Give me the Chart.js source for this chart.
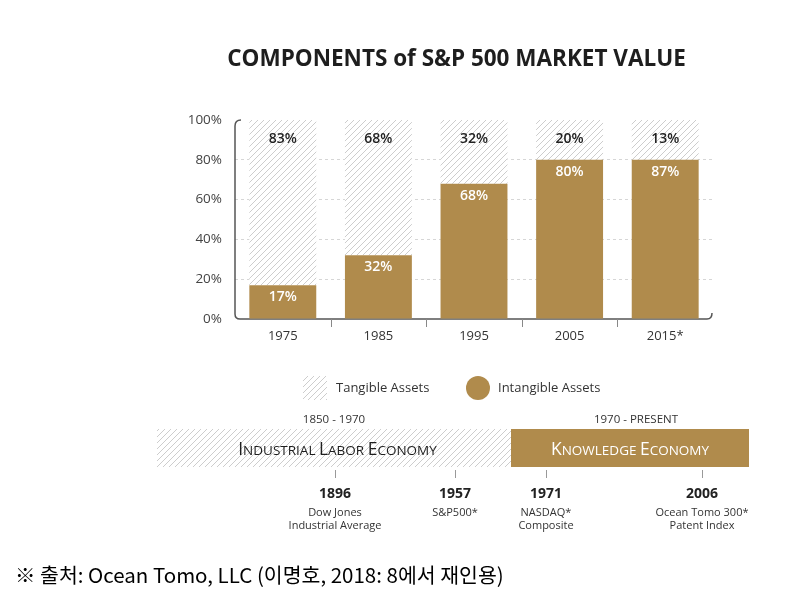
<!DOCTYPE html>
<html>
<head>
<meta charset="utf-8">
<script src="https://cdn.jsdelivr.net/npm/chart.js@4"></script>
<style>
  body { margin: 0; background: #fff; }
  #wrap { position: relative; width: 805px; height: 596px; overflow: hidden; }
  #chart { position: absolute; left: 0; top: 0; }
  #title {
    position: absolute; left: 0; width: 913px; top: 42px; text-align: center;
    font: 700 22.5px "Open Sans", sans-serif; color: #1e1e1e; white-space: nowrap;
  }
  #source {
    position: absolute; left: 15px; top: 559px;
    font: 20.5px "Noto Sans CJK KR", sans-serif; color: #000; white-space: nowrap;
  }
</style>
</head>
<body>
<div id="wrap">
  <canvas id="chart" width="805" height="596"></canvas>
  <div id="title">COMPONENTS of S&amp;P 500 MARKET VALUE</div>
  <div id="source">※ 출처: Ocean Tomo, LLC (이명호, 2018: 8에서 재인용)</div>
</div>
<script>
// 데이터 (막대 높이는 그림에 그려진 대로, 라벨은 인쇄된 값)
const years = ["1975", "1985", "1995", "2005", "2015*"];
const intangible = [17, 32, 68, 80, 80];
const tangible = [83, 68, 32, 20, 20];
const intangibleLabels = [17, 32, 68, 80, 87];
const tangibleLabels = [83, 68, 32, 20, 13];

const legendLabels = ["Tangible Assets", "Intangible Assets"];
const eras = ["1850 - 1970", "1970 - PRESENT"];
const eraNames = ["Industrial Labor Economy", "Knowledge Economy"];
const milestoneYears = ["1896", "1957", "1971", "2006"];
const milestoneNotes = [["Dow Jones", "Industrial Average"], ["S&P500*"], ["NASDAQ*", "Composite"], ["Ocean Tomo 300*", "Patent Index"]];

// 레이아웃
const GOLD = "#b08b4c";
const FONT = '"Open Sans", sans-serif';
const milestoneX = [335, 455, 546, 702];

// 빗금 패턴
function makeHatch() {
  const c = document.createElement("canvas");
  c.width = 6; c.height = 6;
  const g = c.getContext("2d");
  g.fillStyle = "#fff";
  g.fillRect(0, 0, 6, 6);
  g.strokeStyle = "#cdcdcd";
  g.lineWidth = 1;
  g.beginPath();
  g.moveTo(0, 6); g.lineTo(6, 0);
  g.moveTo(-1, 1); g.lineTo(1, -1);
  g.moveTo(5, 7); g.lineTo(7, 5);
  g.stroke();
  return g.createPattern(c, "repeat");
}
const hatch = makeHatch();

// small caps 글자
function smallCaps(ctx, text, cx, y, big, small, color) {
  const parts = [];
  text.split(" ").forEach((w, i) => {
    if (i > 0) parts.push({ t: " ", s: small });
    parts.push({ t: w[0].toUpperCase(), s: big });
    parts.push({ t: w.slice(1).toUpperCase(), s: small });
  });
  let total = 0;
  parts.forEach(p => { ctx.font = p.s + "px " + FONT; p.w = ctx.measureText(p.t).width; total += p.w; });
  let x = cx - total / 2;
  ctx.fillStyle = color;
  ctx.textAlign = "left";
  ctx.textBaseline = "alphabetic";
  parts.forEach(p => { ctx.font = p.s + "px " + FONT; ctx.fillText(p.t, x, y); x += p.w; });
}

const extras = {
  id: "extras",
  beforeDatasetsDraw(chart) {
    const { ctx, chartArea: a } = chart;
    ctx.save();
    // 축선 (둥근 모서리)
    ctx.strokeStyle = "#555";
    ctx.lineWidth = 1.5;
    ctx.beginPath();
    ctx.moveTo(a.left + 6, a.top);
    ctx.quadraticCurveTo(a.left, a.top, a.left, a.top + 6);
    ctx.lineTo(a.left, a.bottom - 5);
    ctx.quadraticCurveTo(a.left, a.bottom, a.left + 5, a.bottom);
    ctx.lineTo(a.right - 6, a.bottom);
    ctx.quadraticCurveTo(a.right - 1, a.bottom, a.right - 1, a.bottom - 6);
    ctx.stroke();
    // 카테고리 구분 눈금
    const xs = chart.scales.x;
    ctx.strokeStyle = "#888";
    ctx.lineWidth = 1;
    for (let i = 1; i < years.length; i++) {
      const px = Math.round((xs.getPixelForValue(i - 1) + xs.getPixelForValue(i)) / 2) + 0.5;
      ctx.beginPath();
      ctx.moveTo(px, a.bottom);
      ctx.lineTo(px, a.bottom + 8);
      ctx.stroke();
    }
    ctx.restore();
  },
  afterDatasetsDraw(chart) {
    const { ctx } = chart;
    const ys = chart.scales.y;
    const bars = chart.getDatasetMeta(0).data;
    ctx.save();
    ctx.textAlign = "center";
    ctx.textBaseline = "middle";
    ctx.font = "600 14px " + FONT;
    bars.forEach((b, i) => {
      ctx.fillStyle = "#fff";
      ctx.fillText(intangibleLabels[i] + "%", b.x, b.y + 12);
      ctx.fillStyle = "#222";
      ctx.fillText(tangibleLabels[i] + "%", b.x, ys.getPixelForValue(100) + 19);
    });
    ctx.restore();
  },
  afterDraw(chart) {
    const { ctx } = chart;
    ctx.save();
    // 범례
    ctx.fillStyle = hatch;
    ctx.fillRect(303, 376, 24, 24);
    ctx.fillStyle = GOLD;
    ctx.beginPath();
    ctx.arc(478, 388, 12, 0, Math.PI * 2);
    ctx.fill();
    ctx.fillStyle = "#333";
    ctx.font = "13px " + FONT;
    ctx.textAlign = "left";
    ctx.textBaseline = "middle";
    ctx.fillText(legendLabels[0], 336, 388);
    ctx.fillText(legendLabels[1], 498, 388);

    // 타임라인
    ctx.fillStyle = hatch;
    ctx.fillRect(157, 429, 354, 38);
    ctx.fillStyle = GOLD;
    ctx.fillRect(511, 429, 238, 38);
    ctx.fillStyle = "#333";
    ctx.font = "11.5px " + FONT;
    ctx.textAlign = "center";
    ctx.fillText(eras[0], 334, 420);
    ctx.fillText(eras[1], 636, 420);
    smallCaps(ctx, eraNames[0], 337.5, 455, 17.5, 13.5, "#1e1e1e");
    smallCaps(ctx, eraNames[1], 630, 455, 17.5, 13.5, "#fff");

    ctx.strokeStyle = "#999";
    ctx.lineWidth = 1;
    milestoneYears.forEach((yr, i) => {
      const x = milestoneX[i];
      ctx.beginPath();
      ctx.moveTo(x + 0.5, 470);
      ctx.lineTo(x + 0.5, 478);
      ctx.stroke();
      ctx.fillStyle = "#222";
      ctx.textAlign = "center";
      ctx.textBaseline = "middle";
      ctx.font = "700 14px " + FONT;
      ctx.fillText(yr, x, 494);
      ctx.fillStyle = "#333";
      ctx.font = "11px " + FONT;
      milestoneNotes[i].forEach((ln, j) => ctx.fillText(ln, x, 513 + j * 13));
    });
    ctx.restore();
  }
};

new Chart(document.getElementById("chart"), {
  type: "bar",
  data: {
    labels: years,
    datasets: [
      { label: legendLabels[1], data: intangible, backgroundColor: GOLD, barPercentage: 0.7, categoryPercentage: 1 },
      { label: legendLabels[0], data: tangible, backgroundColor: hatch, barPercentage: 0.7, categoryPercentage: 1 }
    ]
  },
  options: {
    responsive: false,
    animation: false,
    events: [],
    layout: { padding: { left: 185, right: 92, top: 120, bottom: 247 } },
    plugins: { legend: { display: false }, tooltip: { enabled: false } },
    scales: {
      x: {
        stacked: true,
        grid: { display: false, drawTicks: false },
        border: { display: false },
        ticks: { color: "#333", font: { family: FONT, size: 13 }, padding: 9 },
        afterFit: s => { s.height = 30; }
      },
      y: {
        stacked: true,
        min: 0, max: 100,
        grid: {
          drawTicks: false,
          color: c => (c.tick.value === 0 || c.tick.value === 100) ? "rgba(0,0,0,0)" : "#d6d6d6",
          lineWidth: 1
        },
        border: { display: false, dash: [3, 3] },
        ticks: { stepSize: 20, color: "#444", font: { family: FONT, size: 13.5 }, padding: 13, callback: v => v + "%" },
        afterFit: s => { s.width = 50; }
      }
    }
  },
  plugins: [extras]
});
</script>
</body>
</html>
